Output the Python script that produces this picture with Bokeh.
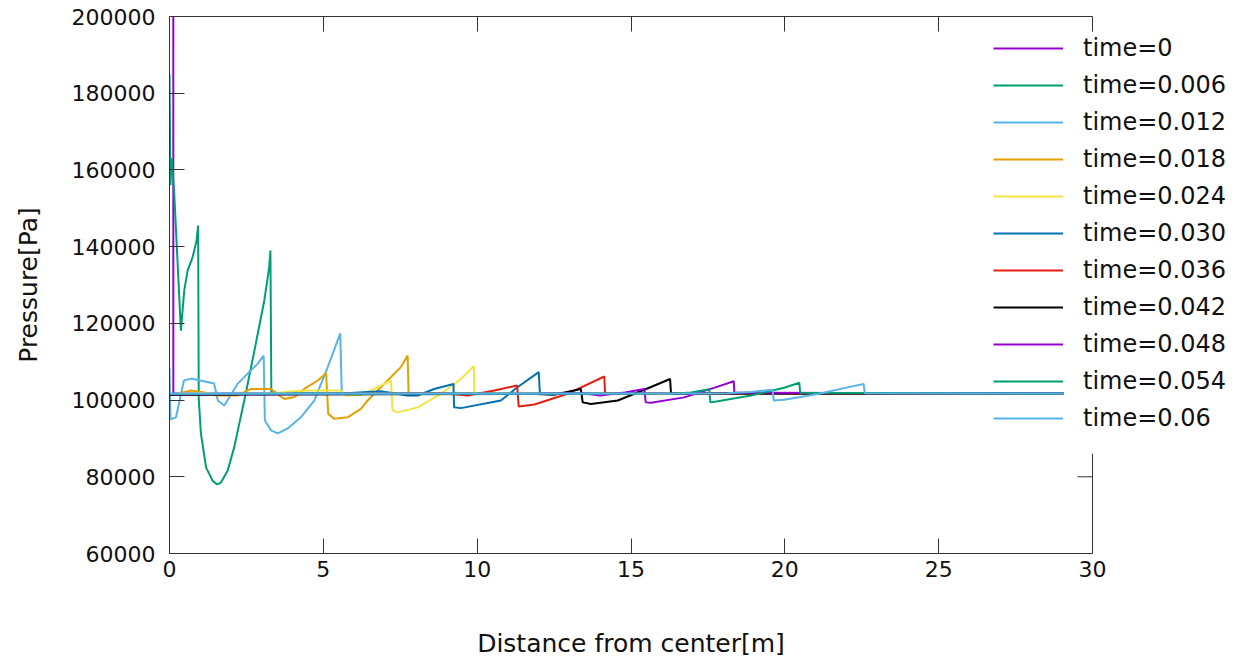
from bokeh.plotting import figure
from bokeh.models import Range1d, LinearAxis, FixedTicker, Legend, CustomJSTickFormatter
from bokeh.embed import file_html
from bokeh.resources import INLINE

# ---- data ----
labels = ["time=0", "time=0.006", "time=0.012", "time=0.018", "time=0.024", "time=0.030",
          "time=0.036", "time=0.042", "time=0.048", "time=0.054", "time=0.06"]
colors = ["#9400D3", "#009E73", "#56B4E9", "#E69F00", "#F0E442", "#0072B2",
          "#E51E10", "#000000", "#9400D3", "#009E73", "#56B4E9"]

x_t000 = [0, 0.12, 0.125, 29.05]
p_t000 = [400000, 400000, 101700, 101700]

x_t006 = [0, 0.03, 0.07, 0.1, 0.15, 0.37, 0.48, 0.59, 0.75, 0.88, 0.93, 0.95, 1.02, 1.19, 1.4,
          1.55, 1.67, 1.89, 2.1, 2.43, 2.76, 3.08, 3.24, 3.28, 3.31, 3.6, 29.05]
p_t006 = [185000, 156000, 163000, 160000, 154500, 118100, 128600, 133800, 137200, 141600, 145500,
          100500, 91300, 82400, 79000, 78000, 78500, 81600, 87600, 99900, 112900, 125900, 134600,
          139000, 102100, 101800, 101700]

x_t012 = [0, 0.03, 0.21, 0.47, 0.70, 1.45, 1.57, 1.78, 2.22, 2.54, 2.87, 3.06, 3.10, 3.30, 3.52,
          3.84, 4.27, 4.71, 5.14, 5.55, 5.60, 29.05]
p_t012 = [108500, 95000, 95500, 105100, 105600, 104300, 99900, 98600, 104300, 106900, 109500,
          111600, 94700, 92100, 91300, 92600, 95500, 99900, 108500, 117400, 101700, 101700]

x_t018 = [0, 0.70, 1.13, 1.51, 2.22, 2.65, 3.30, 3.57, 3.73, 4.06, 4.38, 4.82, 5.09, 5.16, 5.36,
          5.79, 6.22, 6.44, 7.09, 7.52, 7.74, 7.77, 29.05]
p_t018 = [101200, 102500, 102000, 101200, 101200, 102900, 102900, 101200, 100300, 100800, 102900,
          105100, 106900, 96400, 95100, 95500, 97700, 99900, 105100, 108600, 111600, 101700, 101700]

x_t024 = [0, 1.0, 2.0, 3.4, 4.0, 4.6, 5.57, 5.74, 6.22, 6.77, 7.20, 7.25, 7.42, 8.07, 8.82, 9.47,
          9.89, 9.91, 29.05]
p_t024 = [101500, 101800, 101500, 101800, 102300, 102500, 102500, 101200, 101300, 103400, 105100,
          97300, 96800, 98100, 101600, 105500, 108800, 101700, 101700]

x_t030 = [0, 5.6, 6.87, 7.74, 8.07, 8.6, 9.23, 9.25, 9.47, 10.77, 11.32, 12.0, 12.04, 29.05]
p_t030 = [101400, 101700, 102300, 101200, 101200, 102900, 104200, 98100, 97900, 99900, 103400,
          107300, 101700, 101700]

x_t036 = [0, 8.9, 9.7, 10.56, 11.30, 11.35, 11.86, 12.94, 14.13, 14.16, 29.05]
p_t036 = [101500, 101800, 101200, 102500, 103800, 98300, 98850, 101640, 106150, 101700, 101700]

x_t042 = [0, 11.9, 12.5, 13.37, 13.43, 13.7, 14.57, 15.65, 16.27, 16.30, 29.05]
p_t042 = [101400, 101600, 101400, 102900, 99400, 99000, 99900, 103400, 105500, 101700, 101700]

x_t048 = [0, 13.5, 14.0, 14.8, 15.43, 15.48, 15.65, 16.73, 17.82, 18.34, 18.36, 29.05]
p_t048 = [101500, 101700, 101200, 102000, 102900, 99400, 99300, 100700, 103500, 104900, 101900,
          101700]

x_t054 = [0, 16.5, 16.95, 17.54, 17.58, 17.82, 18.9, 19.98, 20.47, 20.5, 29.05]
p_t054 = [101600, 101700, 102000, 102800, 99400, 99700, 101200, 103200, 104500, 101900, 101700]

x_t060 = [0, 17.5, 18.14, 18.9, 19.6, 19.64, 19.98, 21.07, 22.15, 22.56, 22.6, 29.05]
p_t060 = [101700, 101700, 101800, 102100, 102700, 99900, 100100, 101600, 103500, 104200, 101800,
          101700]

xs = [x_t000, x_t006, x_t012, x_t018, x_t024, x_t030, x_t036, x_t042, x_t048, x_t054, x_t060]
ps = [p_t000, p_t006, p_t012, p_t018, p_t024, p_t030, p_t036, p_t042, p_t048, p_t054, p_t060]

x_ticks = [0, 5, 10, 15, 20, 25, 30]
y_ticks = [60000, 80000, 100000, 120000, 140000, 160000, 180000, 200000]
X_MIN, X_MAX = 0, 30
Y_MIN, Y_MAX = 60000, 200000
RIGHT_BORDER_TOP = 86000          # the key box hides the right border above this
RIGHT_TICKS = [60000, 80000]
X_TITLE = "Distance from center[m]"
Y_TITLE = "Pressure[Pa]"

FONT = "DejaVu Sans"
AXC = "#333333"

# frame is widened past x=30 so the key (which overhangs the border) is not clipped
PLOT_PX = 923                     # pixels between x=0 and x=30
FRAME_W = 1066
X_END = X_MAX * FRAME_W / PLOT_PX
TICK_PX = 15
# the axis title is centred on the widened frame; pad it so it sits centred on 0..30
PAD = "\u00a0" * 18

p = figure(frame_width=FRAME_W, frame_height=537, output_backend="svg", toolbar_location=None,
           x_range=Range1d(X_MIN, X_END), y_range=Range1d(Y_MIN, Y_MAX),
           min_border_left=169, min_border_right=0, min_border_top=16, min_border_bottom=0)
p.outline_line_color = None
p.grid.visible = False

def style_axis(ax, ticks):
    ax.ticker = FixedTicker(ticks=ticks)
    ax.major_tick_in = TICK_PX
    ax.major_tick_out = 0
    ax.minor_tick_in = 0
    ax.minor_tick_out = 0
    ax.axis_line_color = AXC
    ax.major_tick_line_color = AXC
    ax.axis_line_width = 1
    ax.major_label_text_font = FONT
    ax.major_label_text_color = "#111111"

xa = p.xaxis[0]
style_axis(xa, x_ticks)
xa.bounds = (X_MIN, X_MAX)
xa.major_label_text_font_size = "22px"
xa.major_label_standoff = 7
xa.axis_label = X_TITLE + PAD
xa.axis_label_text_font = FONT
xa.axis_label_text_font_size = "25px"
xa.axis_label_text_font_style = "normal"
xa.axis_label_text_color = "#111111"
xa.axis_label_standoff = 49

ya = p.yaxis[0]
style_axis(ya, y_ticks)
ya.major_label_text_font_size = "22px"
ya.major_label_standoff = 14
ya.formatter.use_scientific = False
ya.axis_label = Y_TITLE
ya.axis_label_text_font = FONT
ya.axis_label_text_font_size = "25px"
ya.axis_label_text_font_style = "normal"
ya.axis_label_text_color = "#111111"
ya.axis_label_standoff = 26

top = LinearAxis(bounds=(X_MIN, X_MAX), formatter=CustomJSTickFormatter(code="return ''"))
style_axis(top, x_ticks)
top.major_label_standoff = 0
p.add_layout(top, "above")

# right-hand border of the box (only the part below the key) with its inward ticks
tick_dx = TICK_PX * X_END / FRAME_W
p.segment(x0=[X_MAX] + [X_MAX] * len(RIGHT_TICKS),
          y0=[Y_MIN] + RIGHT_TICKS,
          x1=[X_MAX] + [X_MAX - tick_dx] * len(RIGHT_TICKS),
          y1=[RIGHT_BORDER_TOP] + RIGHT_TICKS,
          line_color=AXC, line_width=1)

items = []
for xv, pv, lab, col in zip(xs, ps, labels, colors):
    r = p.line(xv, pv, line_color=col, line_width=2)
    items.append((lab, [r]))

legend = Legend(items=items, location=(824, 121))
legend.background_fill_alpha = 0
legend.border_line_color = None
legend.padding = 0
legend.margin = 0
legend.glyph_width = 70
legend.glyph_height = 28
legend.label_height = 28
legend.spacing = 9
legend.label_standoff = 20
legend.label_text_font = FONT
legend.label_text_font_size = "24px"
legend.label_text_color = "#111111"
p.add_layout(legend, "center")

open("out.html", "w").write(file_html(p, INLINE))
